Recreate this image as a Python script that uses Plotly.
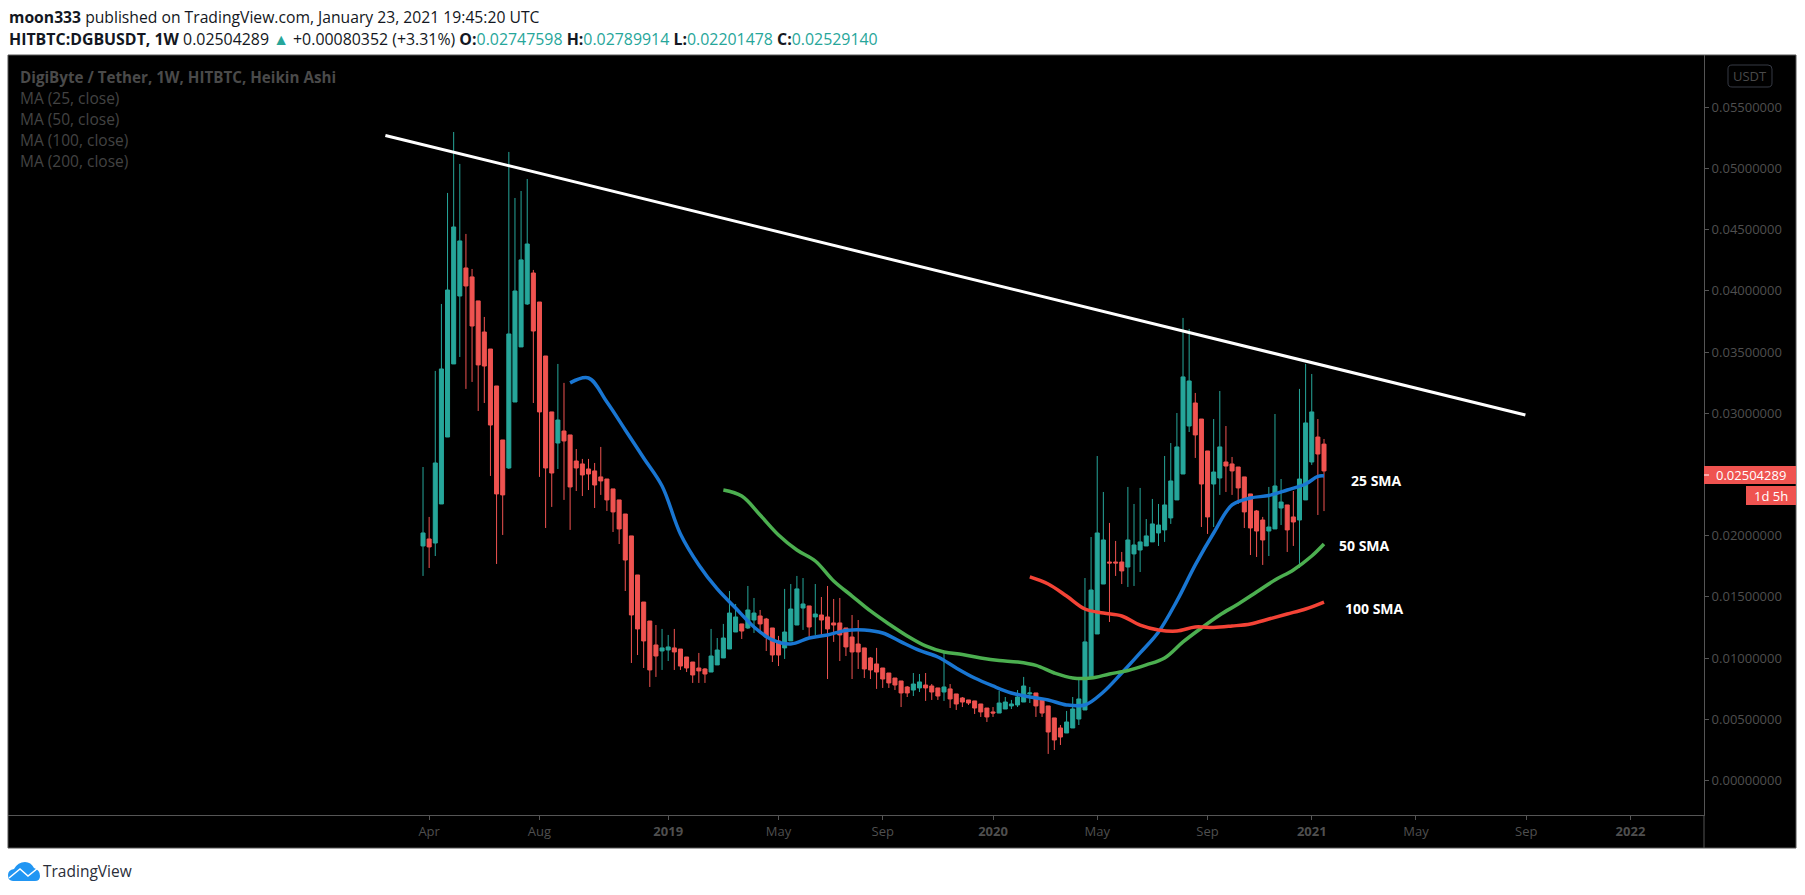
import pandas as pd
import plotly.graph_objects as go

UNIT = 1e-5  # the OHLC and MA lists below are in units of 0.00001 USDT

first_bar = "2018-03-26"
opens = [1916,1973,1940,2259,2806,3403,3958,4187,4114,3918,
3664,3525,3223,2782,2553,3092,3542,3893,4146,3909,
3468,3011,2757,2855,2823,2610,2586,2545,2529,2480,
2463,2382,2292,2177,1998,1679,1458,1303,1107,1058,
1066,1083,1074,1009,968,919,911,886,944,1001,
1074,1213,1279,1246,1311,1344,1319,1246,1140,1083,
1140,1270,1409,1426,1336,1352,1336,1287,1287,1246,
1172,1115,1083,1001,952,919,878,837,813,764,
739,756,780,772,756,723,748,707,674,658,
650,625,592,560,551,584,609,617,641,707,
715,666,609,511,429,388,429,502,576,846,
1197,1605,1785,1785,1785,1744,1851,1883,1916,1949,
2022,2047,2145,2292,2504,2896,3084,2953,2692,2422,
2471,2602,2586,2561,2480,2341,2202,2128,2038,2055,
2226,2251,2153,2128,2292,2602,2806,2748]
highs = [2561,2153,3346,3893,4800,5298,5037,4465,4179,3918,
3787,3525,3223,2782,5135,4759,4816,4914,4171,3909,
3468,3011,3403,3248,2823,2708,2627,2627,2594,2725,
2463,2382,2292,2177,1998,1679,1458,1303,1270,1238,
1189,1238,1074,1009,968,1042,919,1238,1164,1279,
1548,1442,1279,1589,1491,1393,1328,1246,1181,1565,
1605,1671,1654,1426,1605,1499,1589,1483,1491,1246,
1352,1311,1083,1009,1083,919,878,837,813,772,
878,870,878,788,756,1042,788,707,682,658,
650,625,592,600,731,682,658,739,846,764,
715,666,609,511,453,568,682,821,1654,1989,
2651,2357,2104,1957,1867,2398,2259,2390,2136,2300,
2259,2651,2757,3002,3779,3689,3166,2953,2692,2953,
3182,2896,2643,2561,2480,2341,2210,2153,2398,2994,
2463,2251,2365,3199,3403,3321,2953,2790]
lows = [1671,1736,1834,2259,2806,3403,3460,3199,3256,3019,
3084,2488,1769,2006,2545,3092,3542,3885,3084,2480,
2063,2235,2545,2292,2047,2365,2324,2373,2226,2333,
2202,2030,1932,1548,960,1025,919,764,846,903,
976,903,903,886,797,797,797,886,944,1001,
1074,1213,1156,1238,1205,1213,1058,968,935,993,
1140,1270,1230,1156,1189,1172,829,1132,976,1017,
829,911,837,829,748,756,756,739,600,682,
690,723,650,658,658,650,592,576,600,617,
543,519,478,519,551,584,584,600,641,633,
519,519,217,249,290,388,429,453,576,846,
1197,1605,1295,1671,1605,1581,1589,1703,1916,1949,
1916,1949,2096,2292,2504,2847,2635,2071,2014,2071,
2333,2357,2333,2259,2063,1842,1826,1761,1834,2055,
2087,1867,1916,1736,2292,2578,2169,2201]
closes = [2022,1908,2594,3362,4007,4522,4408,4040,3713,3395,
3386,2904,2341,2333,3648,3999,4253,4383,3672,3011,
2553,2512,2945,2774,2398,2553,2496,2504,2414,2447,
2292,2194,2055,1801,1352,1238,1140,903,1017,1083,
1091,1050,935,919,862,895,870,1017,1066,1164,
1368,1336,1221,1393,1368,1279,1172,1025,1025,1213,
1401,1565,1442,1254,1360,1311,1238,1270,1189,1091,
1050,1050,911,903,886,829,797,780,715,715,
788,805,756,723,690,764,666,625,641,633,
592,560,519,551,633,641,625,682,772,715,
609,551,396,331,355,478,584,666,1132,1556,
2022,1965,1777,1777,1712,1965,1924,1949,1998,2096,
2087,2251,2447,2725,3297,3264,2823,2422,2153,2520,
2725,2569,2529,2390,2194,2063,2038,1965,2071,2406,
2275,2047,2112,2463,2921,3011,2667,2529]

# moving averages, read every third weekly bar (the 25 MA has one extra reading near its end)
ma25 = [3248,3288,3092,2864,2635,2406,2014,1761,1565,1409,1254,1148,1115,1164,
1189,1226,1230,1205,1132,1062,1009,919,837,772,715,682,658,617,617,723,878,
1042,1213,1467,1761,2022,2251,2308,2328,2373,2422,2484,2488]
ma50 = [2373,2324,2169,2006,1883,1793,1630,1507,1385,1279,1181,1099,1050,1029,
1001,980,968,940,878,837,837,870,899,944,1001,1132,1246,1352,1442,1540,1638,
1720,1834,1932]
ma100 = [1663,1605,1507,1401,1368,1344,1270,1230,1221,1254,1250,1262,1279,1319,
1360,1401,1458]

trend_dates = ["2018-02-11", "2021-09-05"]
trend_values = [0.05270, 0.02986]

# the 0.025 level is hidden behind the last-price tag in the reference
y_ticks = [0, 0.005, 0.01, 0.015, 0.02, 0.03, 0.035, 0.04, 0.045, 0.05, 0.055]
x_tick_dates = ["2018-04-02", "2018-08-06", "2018-12-31", "2019-05-06", "2019-09-02",
                "2020-01-06", "2020-05-04", "2020-09-07", "2021-01-04", "2021-05-03",
                "2021-09-06", "2022-01-03"]
x_tick_labels = ["Apr", "Aug", "<b>2019</b>", "May", "Sep", "<b>2020</b>", "May", "Sep",
                 "<b>2021</b>", "May", "Sep", "<b>2022</b>"]

TEAL, RED = "#26a69a", "#ef5350"
BLUE, GREEN, MA_RED = "#1976d2", "#4caf50", "#f44336"
GREY = "#555555"
FONT = "Open Sans"

W, H = 1805, 895
L, R, T, B = 8, 1704, 55, 815


def px(x):
    return (x - L) / (R - L)


def py(y):
    return 1 - (y - T) / (B - T)


dates = pd.date_range(first_bar, periods=len(opens), freq="7D")
scaled = lambda a: [v * UNIT for v in a]

fig = go.Figure()
fig.add_trace(go.Candlestick(
    x=dates, open=scaled(opens), high=scaled(highs), low=scaled(lows), close=scaled(closes),
    increasing=dict(line=dict(color=TEAL, width=1), fillcolor=TEAL),
    decreasing=dict(line=dict(color=RED, width=1), fillcolor=RED),
    whiskerwidth=0, showlegend=False))
ma_style = dict(mode="lines", showlegend=False, hoverinfo="skip")
fig.add_trace(go.Scatter(x=list(dates[24:145:3]) + [dates[146], dates[147]], y=scaled(ma25),
                         line=dict(color=BLUE, width=3.5, shape="spline"), **ma_style))
fig.add_trace(go.Scatter(x=list(dates[49::3]) + [dates[147]], y=scaled(ma50),
                         line=dict(color=GREEN, width=3.5, shape="spline"), **ma_style))
fig.add_trace(go.Scatter(x=dates[99::3], y=scaled(ma100),
                         line=dict(color=MA_RED, width=3.5, shape="spline"), **ma_style))
fig.add_trace(go.Scatter(x=trend_dates, y=trend_values,
                         line=dict(color="#ffffff", width=3), **ma_style))

shapes = [
    dict(type="rect", xref="paper", yref="paper", layer="below",
         x0=px(8), x1=px(1796), y0=py(848), y1=py(55),
         fillcolor="#000000", line=dict(color=GREY, width=1)),
    dict(type="rect", xref="paper", yref="paper", x0=px(1704), x1=px(1796),
         y0=py(484), y1=py(466), fillcolor=RED, line=dict(width=0)),
    dict(type="rect", xref="paper", yref="paper", x0=px(1746), x1=px(1796),
         y0=py(505), y1=py(486), fillcolor=RED, line=dict(width=0)),
    dict(type="line", xref="paper", yref="paper", x0=px(1704), x1=px(1709),
         y0=py(475), y1=py(475), line=dict(color="#ffffff", width=1)),
    dict(type="line", xref="paper", yref="paper", x0=px(1704), x1=px(1704),
         y0=py(848), y1=py(815), line=dict(color=GREY, width=1)),
]


def path(points, close=True):
    d = ""
    for cmd, *xy in points:
        d += cmd + " ".join(
            f"{px(xy[i]):.5f},{py(xy[i + 1]):.5f}" for i in range(0, len(xy), 2)) + " "
    return d + ("Z" if close else "")


# USDT badge
shapes.append(dict(type="path", xref="paper", yref="paper",
    path=path([("M", 1732, 65), ("L", 1768, 65), ("Q", 1772, 65, 1772, 69), ("L", 1772, 83),
               ("Q", 1772, 87, 1768, 87), ("L", 1732, 87), ("Q", 1728, 87, 1728, 83),
               ("L", 1728, 69), ("Q", 1728, 65, 1732, 65)]),
    line=dict(color="#363a45", width=1), fillcolor="rgba(0,0,0,0)"))
# logo cloud
shapes.append(dict(type="path", xref="paper", yref="paper",
    path=path([("M", 13, 881), ("Q", 8, 881, 8, 875), ("Q", 8, 870, 14, 869), ("Q", 18, 862, 25, 862),
               ("Q", 31, 862, 34, 868), ("Q", 40, 870, 40, 876), ("Q", 40, 881, 35, 881)]),
    fillcolor="#2196f3", line=dict(width=0)))
shapes.append(dict(type="path", xref="paper", yref="paper",
    path=path([("M", 9, 878), ("L", 20, 869), ("L", 28, 876), ("L", 38, 868)], close=False),
    line=dict(color="#ffffff", width=1.5)))


def label(x, y, text, size, color, anchor="left", family=FONT):
    return dict(xref="paper", yref="paper", x=px(x), y=py(y), text=text, showarrow=False,
                xanchor=anchor, yanchor="middle", align=anchor,
                font=dict(family=family, size=size, color=color))


teal = lambda s: f'<span style="color:{TEAL}">{s}</span>'
annotations = [
    label(6.5, 17, "<b>moon333</b> published on TradingView.com, January 23, 2021 19:45:20 UTC", 15.7, "#131722"),
    label(6.5, 39, "<b>HITBTC:DGBUSDT, 1W</b> 0.02504289 " + teal("▲") + " +0.00080352 (+3.31%) "
          "<b>O:</b>" + teal("0.02747598") + " <b>H:</b>" + teal("0.02789914") +
          " <b>L:</b>" + teal("0.02201478") + " <b>C:</b>" + teal("0.02529140"), 15.9, "#131722"),
    label(17.5, 77, "<b>DigiByte / Tether, 1W, HITBTC, Heikin Ashi</b>", 15.2, "#4a4a4a"),
    label(17.5, 98, "MA (25, close)", 15.5, "#434343"),
    label(17.5, 119, "MA (50, close)", 15.5, "#434343"),
    label(17.5, 140, "MA (100, close)", 15.5, "#434343"),
    label(17.5, 161, "MA (200, close)", 15.5, "#434343"),
    label(1750, 76, "USDT", 13, "#4a4a4a", "center"),
    label(1750.5, 475, "0.02504289", 13, "#ffffff", "center"),
    label(1771, 495.5, "1d 5h", 13, "#ffffff", "center"),
    label(40.5, 871, "TradingView", 15.5, "#2a2e39"),
    label(1376.5, 480, "<b>25 SMA</b>", 14, "#ffffff", "center"),
    label(1364.5, 545, "<b>50 SMA</b>", 14, "#ffffff", "center"),
    label(1374.5, 608, "<b>100 SMA</b>", 14, "#ffffff", "center"),
]

fig.update_layout(
    width=W, height=H, autosize=False,
    margin=dict(l=L, r=W - R, t=T, b=H - B, pad=0),
    paper_bgcolor="#ffffff", plot_bgcolor="#000000",
    font=dict(family=FONT, size=13, color="#4f4f4f"),
    showlegend=False, boxgap=0.19, boxgroupgap=0.19,
    shapes=shapes, annotations=annotations,
    xaxis=dict(type="date", range=["2016-12-07", "2022-03-28"], rangeslider=dict(visible=False),
               showgrid=False, zeroline=False, showline=True, linecolor=GREY, linewidth=1,
               tickmode="array", tickvals=x_tick_dates, ticktext=x_tick_labels,
               ticks="outside", ticklen=4, tickcolor=GREY, tickwidth=1,
               tickfont=dict(family=FONT, size=13, color="#4f4f4f")),
    yaxis=dict(side="right", range=[-0.00282, 0.05927], showgrid=False, zeroline=False,
               showline=True, linecolor=GREY, linewidth=1,
               tickmode="array", tickvals=y_ticks, tickformat=".8f",
               ticks="outside", ticklen=4, tickcolor=GREY, tickwidth=1,
               tickfont=dict(family=FONT, size=13, color="#4f4f4f")),
)

fig.write_html("out.html", config={"displayModeBar": False},
               post_script="document.body.style.margin='0';")
